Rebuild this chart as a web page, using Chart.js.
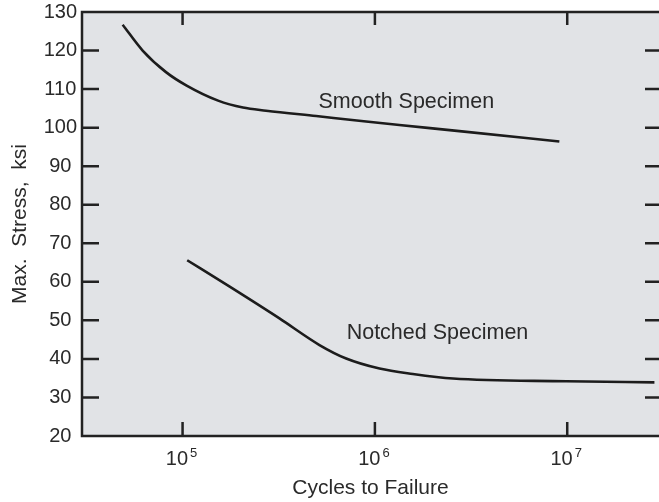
<!DOCTYPE html>
<html>
<head>
<meta charset="utf-8">
<script src="https://cdn.jsdelivr.net/npm/chart.js@4/dist/chart.umd.min.js"></script>
<style>
  html, body { margin: 0; padding: 0; background: #fff; }
  #wrap { width: 659px; height: 502px; position: relative; }
</style>
</head>
<body>
<div id="wrap"><canvas id="snChart"></canvas></div>
<script>
// data
const smoothCycles = [48800, 62000, 82000, 105000, 153000, 206000, 272000, 495000, 900000, 1340000, 2750000, 9100000];
const smoothStress = [126.7, 120.0, 114.4, 110.9, 107.0, 105.2, 104.4, 103.0, 101.6, 100.7, 99.1, 96.4];

const notchedCycles = [105700, 175000, 319000, 515000, 709000, 1057000, 1575000, 2545000, 9890000, 28400000];
const notchedStress = [65.6, 58.8, 50.5, 43.6, 40.1, 37.5, 36.1, 34.9, 34.2, 33.9];

const xTicks = [1e5, 1e6, 1e7];
const yMin = 20, yMax = 130, yStep = 10;

// curve labels: [text, cycles, stress]
const curveLabels = [
    ['Smooth Specimen', 509000, 106.6],
    ['Notched Specimen', 713000, 46.6]
];

const FONT = "'Liberation Sans', Arial, Helvetica, sans-serif";
const INK = '#222';
const TEXT = '#2a2a2a';

function toPoints(xs, ys) {
    return xs.map((x, i) => ({ x: x, y: ys[i] }));
}

// gray plot area, box lines, inward ticks, 10^n labels, curve labels
const plotDeco = {
    id: 'plotDeco',
    beforeDatasetsDraw(chart) {
        const { ctx, chartArea: a } = chart;
        ctx.save();
        ctx.fillStyle = '#e1e3e6';
        ctx.fillRect(a.left, a.top, a.right - a.left, a.bottom - a.top);
        ctx.restore();
    },
    afterDraw(chart) {
        const { ctx, chartArea: a, scales: { x, y } } = chart;
        ctx.save();
        ctx.strokeStyle = INK;
        ctx.lineWidth = 2.5;
        ctx.beginPath();
        ctx.moveTo(a.left, a.top); ctx.lineTo(a.right, a.top);
        ctx.moveTo(a.left, a.top - 1.2); ctx.lineTo(a.left, a.bottom + 1.2);
        ctx.moveTo(a.left - 1.2, a.bottom); ctx.lineTo(a.right, a.bottom);
        x.ticks.forEach(t => {
            const px = x.getPixelForValue(t.value);
            ctx.moveTo(px, a.bottom); ctx.lineTo(px, a.bottom - 14);
            ctx.moveTo(px, a.top); ctx.lineTo(px, a.top + 13);
        });
        y.ticks.forEach(t => {
            if (t.value <= yMin || t.value >= yMax) return;
            const py = y.getPixelForValue(t.value);
            ctx.moveTo(a.left, py); ctx.lineTo(a.left + 17, py);
            ctx.moveTo(a.right, py); ctx.lineTo(a.right - 14, py);
        });
        ctx.stroke();

        // x tick labels as 10 with a raised exponent
        ctx.fillStyle = TEXT;
        ctx.textAlign = 'left';
        ctx.textBaseline = 'alphabetic';
        x.ticks.forEach(t => {
            const px = x.getPixelForValue(t.value);
            const exp = String(Math.round(Math.log10(t.value)));
            ctx.font = '20px ' + FONT;
            const wb = ctx.measureText('10').width;
            ctx.font = '13px ' + FONT;
            const we = ctx.measureText(exp).width;
            const x0 = px - (wb + 2 + we) / 2 - 1;
            ctx.font = '20px ' + FONT;
            ctx.fillText('10', x0, a.bottom + 29);
            ctx.font = '13px ' + FONT;
            ctx.fillText(exp, x0 + wb + 2, a.bottom + 21);
        });

        ctx.font = '21.5px ' + FONT;
        ctx.textBaseline = 'middle';
        curveLabels.forEach(l => {
            ctx.fillText(l[0], x.getPixelForValue(l[1]), y.getPixelForValue(l[2]));
        });
        ctx.restore();
    }
};

const lineStyle = {
    borderColor: '#1c1c1c',
    borderWidth: 2.6,
    pointRadius: 0,
    fill: false,
    cubicInterpolationMode: 'monotone'
};

new Chart(document.getElementById('snChart'), {
    type: 'line',
    data: {
        datasets: [
            Object.assign({ label: 'Smooth Specimen', data: toPoints(smoothCycles, smoothStress) }, lineStyle),
            Object.assign({ label: 'Notched Specimen', data: toPoints(notchedCycles, notchedStress) }, lineStyle)
        ]
    },
    options: {
        responsive: true,
        maintainAspectRatio: false,
        animation: false,
        layout: { padding: { top: 12, right: 0, left: 0, bottom: 0 } },
        plugins: {
            legend: { display: false },
            tooltip: { enabled: false }
        },
        scales: {
            x: {
                type: 'logarithmic',
                min: 30000,
                max: 30000000,
                afterBuildTicks: s => { s.ticks = xTicks.map(v => ({ value: v })); },
                afterFit: s => { s.height = 66; s.paddingLeft = 0; s.paddingRight = 0; },
                grid: { display: false, drawTicks: false },
                border: { display: false },
                ticks: { display: false },
                title: {
                    display: true,
                    text: 'Cycles to Failure',
                    color: TEXT,
                    font: { family: FONT, size: 21 },
                    padding: { top: 0, bottom: 1 }
                }
            },
            y: {
                type: 'linear',
                min: yMin,
                max: yMax,
                afterFit: s => { s.width = 82; s.paddingTop = 0; s.paddingBottom = 0; },
                grid: { display: false, drawTicks: false },
                border: { display: false },
                ticks: {
                    stepSize: yStep,
                    color: TEXT,
                    font: { family: FONT, size: 20 },
                    padding: 5,
                    crossAlign: 'center'
                },
                title: {
                    display: true,
                    text: 'Max.  Stress,  ksi',
                    color: TEXT,
                    font: { family: FONT, size: 21 },
                    padding: { top: 8, bottom: 0 }
                }
            }
        }
    },
    plugins: [plotDeco]
});
</script>
</body>
</html>
